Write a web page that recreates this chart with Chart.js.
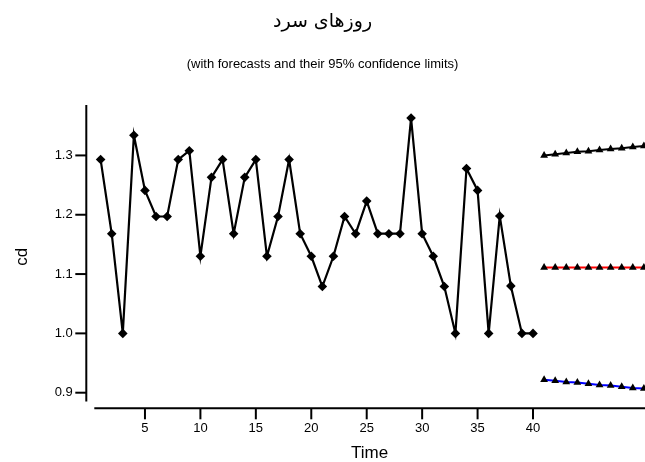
<!DOCTYPE html>
<html>
<head>
<meta charset="utf-8">
<script src="https://cdn.jsdelivr.net/npm/chart.js@4/dist/chart.umd.min.js"></script>
<style>
  html, body { margin: 0; padding: 0; background: #fff; }
  canvas { display: block; }
</style>
</head>
<body>
<canvas id="chart" width="645" height="462"></canvas>
<script>
// Observed series (cold days) by time index
const timeIndex = [1,2,3,4,5,6,7,8,9,10,11,12,13,14,15,16,17,18,19,20,
                   21,22,23,24,25,26,27,28,29,30,31,32,33,34,35,36,37,38,39,40];
const cdValues = [1.293,1.168,1.000,1.334,1.241,1.197,1.197,1.293,1.308,1.130,
                  1.263,1.293,1.168,1.263,1.293,1.130,1.197,1.293,1.168,1.130,
                  1.079,1.130,1.197,1.168,1.223,1.168,1.168,1.168,1.363,1.168,
                  1.130,1.079,1.000,1.278,1.241,1.000,1.198,1.080,1.000,1.000];

// Forecast horizon with 95% confidence limits
const forecastIndex = [41,42,43,44,45,46,47,48,49,50];
const forecastValues = [1.111,1.111,1.111,1.111,1.111,1.111,1.111,1.111,1.111,1.111];
const upperLimit = [1.300,1.302,1.304,1.306,1.307,1.309,1.311,1.312,1.314,1.316];
const lowerLimit = [0.922,0.920,0.918,0.917,0.915,0.913,0.912,0.910,0.908,0.907];

const xTickValues = [5,10,15,20,25,30,35,40];
const yTickValues = [0.9,1.0,1.1,1.2,1.3];

const titleText = 'روزهای سرد';
const subtitleText = '(with forecasts and their 95% confidence limits)';

const toPoints = (xs, ys) => xs.map((x, i) => ({ x: x, y: ys[i] }));

const baseFont = "'Liberation Sans', Arial, sans-serif";
Chart.defaults.color = '#000';
Chart.defaults.font.family = baseFont;

// Offset axis lines with outward tick marks, drawn from the scales
const offsetAxes = {
  id: 'offsetAxes',
  afterDraw(chart) {
    const ctx = chart.ctx;
    const xs = chart.scales.x, ys = chart.scales.y;
    const area = chart.chartArea;
    ctx.save();
    ctx.strokeStyle = '#000';
    ctx.lineWidth = 2;
    ctx.lineCap = 'butt';
    // vertical axis
    const yAxisX = area.left - 8;
    ctx.beginPath();
    ctx.moveTo(yAxisX, ys.getPixelForValue(1.385));
    ctx.lineTo(yAxisX, ys.getPixelForValue(0.885));
    ctx.stroke();
    yTickValues.forEach(v => {
      const py = ys.getPixelForValue(v);
      ctx.beginPath();
      ctx.moveTo(yAxisX - 11, py);
      ctx.lineTo(yAxisX, py);
      ctx.stroke();
    });
    // horizontal axis
    const xAxisY = area.bottom;
    ctx.beginPath();
    ctx.moveTo(area.left, xAxisY);
    ctx.lineTo(area.right, xAxisY);
    ctx.stroke();
    xTickValues.forEach(v => {
      const px = xs.getPixelForValue(v);
      ctx.beginPath();
      ctx.moveTo(px, xAxisY);
      ctx.lineTo(px, xAxisY + 11);
      ctx.stroke();
    });
    ctx.restore();
  }
};

new Chart(document.getElementById('chart'), {
  type: 'line',
  data: {
    datasets: [
      {
        label: 'cd',
        data: toPoints(timeIndex, cdValues),
        borderColor: '#000',
        backgroundColor: '#000',
        borderWidth: 2.2,
        pointStyle: 'rectRot',
        pointRadius: 4.8,
        pointBorderWidth: 0,
        tension: 0
      },
      {
        label: 'upper 95%',
        data: toPoints(forecastIndex, upperLimit),
        borderColor: '#000',
        backgroundColor: '#000',
        borderWidth: 2,
        pointStyle: 'triangle',
        pointRadius: 4.5,
        pointBorderWidth: 0,
        tension: 0
      },
      {
        label: 'forecast',
        data: toPoints(forecastIndex, forecastValues),
        borderColor: '#ff0000',
        backgroundColor: '#000',
        borderWidth: 2,
        pointStyle: 'triangle',
        pointRadius: 4.5,
        pointBorderWidth: 0,
        tension: 0
      },
      {
        label: 'lower 95%',
        data: toPoints(forecastIndex, lowerLimit),
        borderColor: '#0000ff',
        backgroundColor: '#000',
        borderWidth: 2,
        pointStyle: 'triangle',
        pointRadius: 4.5,
        pointBorderWidth: 0,
        tension: 0
      }
    ]
  },
  options: {
    responsive: false,
    devicePixelRatio: 1,
    animation: false,
    layout: { autoPadding: false, padding: { left: 0, right: 0, top: 0, bottom: 0 } },
    plugins: {
      legend: { display: false },
      tooltip: { enabled: false },
      title: {
        display: true,
        text: titleText,
        font: { family: "'DejaVu Sans', 'Liberation Sans', sans-serif", size: 19, weight: 'normal' },
        color: '#000',
        padding: { top: 10.6, bottom: 0 }
      },
      subtitle: {
        display: true,
        text: subtitleText,
        font: { family: baseFont, size: 13 },
        color: '#000',
        padding: { top: 23, bottom: 33 }
      }
    },
    scales: {
      x: {
        type: 'linear',
        min: 0.43,
        max: 50.1,
        grid: { display: false, drawTicks: false },
        border: { display: false },
        afterFit(scale) { scale.height = 53.7; },
        afterBuildTicks(scale) { scale.ticks = xTickValues.map(v => ({ value: v })); },
        ticks: {
          padding: 12.5,
          font: { size: 13 },
          color: '#000',
          callback: v => String(v)
        },
        title: {
          display: true,
          text: 'Time',
          font: { size: 17 },
          color: '#000',
          padding: { top: 0, bottom: -1.5 }
        }
      },
      y: {
        type: 'linear',
        min: 0.8737,
        max: 1.385,
        grid: { display: false, drawTicks: false },
        border: { display: false },
        afterFit(scale) { scale.width = 94.3; },
        afterBuildTicks(scale) { scale.ticks = yTickValues.map(v => ({ value: v })); },
        ticks: {
          padding: 21.6,
          font: { size: 13 },
          color: '#000',
          callback: v => Number(v).toFixed(1)
        },
        title: {
          display: true,
          text: 'cd',
          font: { size: 17 },
          color: '#000',
          padding: { top: 12, bottom: 0 }
        }
      }
    }
  },
  plugins: [offsetAxes]
});
</script>
</body>
</html>
